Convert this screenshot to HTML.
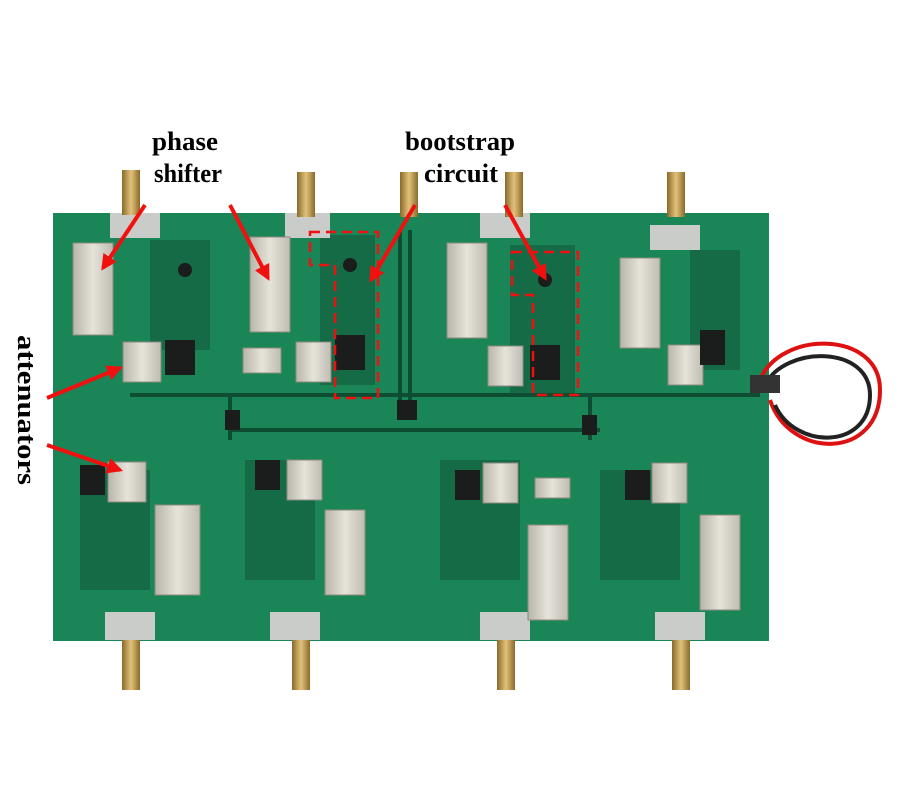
<!DOCTYPE html><html><head><style>body{margin:0;background:#fff}svg{display:block}</style></head><body>
<svg width="900" height="800" viewBox="0 0 900 800" xmlns="http://www.w3.org/2000/svg">
<defs>
<linearGradient id="sil" x1="0" x2="1"><stop offset="0" stop-color="#b8b5aa"/><stop offset=".5" stop-color="#e6e3da"/><stop offset="1" stop-color="#bfbcb2"/></linearGradient>
<linearGradient id="gold" x1="0" x2="1"><stop offset="0" stop-color="#8a6a2a"/><stop offset=".5" stop-color="#e2c27a"/><stop offset="1" stop-color="#8a6a2a"/></linearGradient>
<marker id="ah" viewBox="0 0 10 10" refX="8" refY="5" markerWidth="4" markerHeight="4" orient="auto"><path d="M0,0L10,5L0,10z" fill="#f01010"/></marker>
</defs>
<rect x="53" y="213" width="716" height="428" fill="#1a8657"/>
<g fill="#146b45">
<rect x="150" y="240" width="60" height="110"/><rect x="320" y="235" width="55" height="150"/><rect x="510" y="245" width="65" height="150"/><rect x="690" y="250" width="50" height="120"/>
<rect x="80" y="470" width="70" height="120"/><rect x="245" y="460" width="70" height="120"/><rect x="440" y="460" width="80" height="120"/><rect x="600" y="470" width="80" height="110"/>
</g>
<g stroke="#0f4d33" stroke-width="4" fill="none">
<path d="M130 395H760M230 395V440M400 230V420M410 230V420M590 395V440M230 430H600"/>
</g>
<g fill="#c9ccc8"><rect x="110" y="213" width="50" height="25"/><rect x="285" y="213" width="45" height="25"/><rect x="480" y="213" width="50" height="25"/><rect x="650" y="225" width="50" height="25"/>
<rect x="105" y="612" width="50" height="28"/><rect x="270" y="612" width="50" height="28"/><rect x="480" y="612" width="50" height="28"/><rect x="655" y="612" width="50" height="28"/></g>
<g fill="url(#gold)">
<rect x="122" y="170" width="18" height="45"/><rect x="297" y="172" width="18" height="45"/><rect x="400" y="172" width="18" height="45"/><rect x="505" y="172" width="18" height="45"/><rect x="667" y="172" width="18" height="45"/>
<rect x="122" y="640" width="18" height="50"/><rect x="292" y="640" width="18" height="50"/><rect x="497" y="640" width="18" height="50"/><rect x="672" y="640" width="18" height="50"/>
</g>
<g fill="url(#sil)" stroke="#8d8a80">
<rect x="73" y="243" width="40" height="92"/><rect x="250" y="237" width="40" height="95"/><rect x="447" y="243" width="40" height="95"/><rect x="620" y="258" width="40" height="90"/>
<rect x="155" y="505" width="45" height="90"/><rect x="325" y="510" width="40" height="85"/><rect x="528" y="525" width="40" height="95"/><rect x="700" y="515" width="40" height="95"/>
<rect x="123" y="342" width="38" height="40"/><rect x="296" y="342" width="35" height="40"/><rect x="488" y="346" width="35" height="40"/><rect x="668" y="345" width="35" height="40"/>
<rect x="108" y="462" width="38" height="40"/><rect x="287" y="460" width="35" height="40"/><rect x="483" y="463" width="35" height="40"/><rect x="652" y="463" width="35" height="40"/>
<rect x="243" y="348" width="38" height="25"/><rect x="535" y="478" width="35" height="20"/>
</g>
<g fill="#1a1d1c">
<rect x="165" y="340" width="30" height="35"/><rect x="335" y="335" width="30" height="35"/><rect x="530" y="345" width="30" height="35"/><rect x="700" y="330" width="25" height="35"/>
<rect x="80" y="465" width="25" height="30"/><rect x="255" y="460" width="25" height="30"/><rect x="455" y="470" width="25" height="30"/><rect x="625" y="470" width="25" height="30"/>
<rect x="225" y="410" width="15" height="20"/><rect x="397" y="400" width="20" height="20"/><rect x="582" y="415" width="15" height="20"/>
<circle cx="185" cy="270" r="7"/><circle cx="350" cy="265" r="7"/><circle cx="545" cy="280" r="7"/>
</g>
<g fill="none" stroke-width="4"><path d="M760 380C780 330 880 330 880 390C880 460 790 460 770 400" stroke="#d11"/><path d="M765 385C785 345 870 345 870 395C870 450 795 450 775 405" stroke="#222"/></g>
<rect x="750" y="375" width="30" height="18" fill="#333"/>
<g fill="none" stroke="#f01010" stroke-width="2.5" stroke-dasharray="10,6">
<path d="M310 232H378V398H335V265H310Z"/><path d="M512 252H578V395H533V295H512Z"/>
</g>
<g stroke="#f01010" stroke-width="4" marker-end="url(#ah)" fill="none">
<path d="M145 205L103 268"/><path d="M230 205L268 278"/><path d="M415 205L371 280"/><path d="M505 205L545 278"/>
<path d="M47 398L120 368"/><path d="M47 445L120 470"/>
</g>
<g font-family="Liberation Serif,serif" font-weight="bold" font-size="26" fill="#000">
<text x="152" y="150" textLength="66" lengthAdjust="spacingAndGlyphs">phase</text><text x="154" y="182" textLength="68" lengthAdjust="spacingAndGlyphs">shifter</text>
<text x="405" y="150" textLength="110" lengthAdjust="spacingAndGlyphs">bootstrap</text><text x="424" y="182" textLength="74" lengthAdjust="spacingAndGlyphs">circuit</text>
<text transform="translate(18,335) rotate(90)" textLength="150" lengthAdjust="spacingAndGlyphs">attenuators</text>
</g>
</svg></body></html>
